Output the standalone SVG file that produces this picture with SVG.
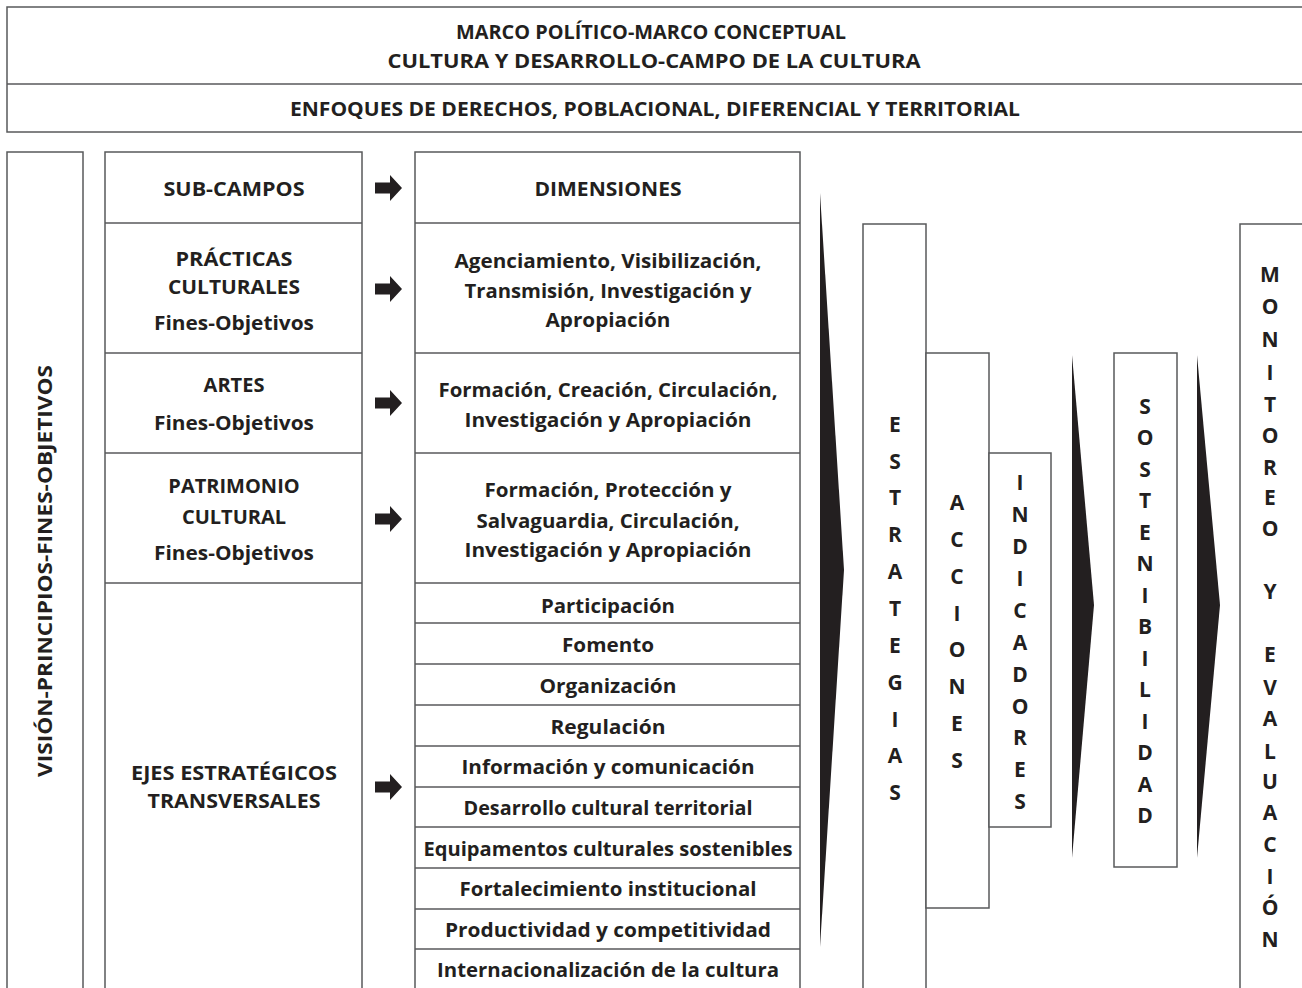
<svg xmlns="http://www.w3.org/2000/svg" width="1302" height="988" viewBox="0 0 1302 988">
<style>
.box{fill:#fff;stroke:#58595b;stroke-width:1.5}
.ln{stroke:#58595b;stroke-width:1.5;fill:none}
.t{font-family:"Open Sans","Liberation Sans",sans-serif;font-weight:700;font-size:20px;fill:#231f20;text-anchor:middle}
.v{font-family:"Open Sans","Liberation Sans",sans-serif;font-weight:700;font-size:21px;fill:#231f20;text-anchor:middle}
.tri{fill:#231f20}
</style>
<defs>
<path id="arr" d="M0,-5.5 H15 V-13 L27,0 L15,13 V5.5 H0 Z" fill="#231f20"/>
</defs>
<rect width="1302" height="988" fill="#fff"/>

<g id="header">
<rect class="box" x="7" y="7" width="1320" height="125"/>
<line class="ln" x1="7" y1="84" x2="1302" y2="84"/>
<text class="t" x="651" y="39" textLength="390" lengthAdjust="spacingAndGlyphs">MARCO POLÍTICO-MARCO CONCEPTUAL</text>
<text class="t" x="654" y="68" textLength="533" lengthAdjust="spacingAndGlyphs">CULTURA Y DESARROLLO-CAMPO DE LA CULTURA</text>
<text class="t" x="655" y="116" textLength="730" lengthAdjust="spacingAndGlyphs">ENFOQUES DE DERECHOS, POBLACIONAL, DIFERENCIAL Y TERRITORIAL</text>
</g>

<g id="vision">
<rect class="box" x="7" y="152" width="76" height="860"/>
<text class="t" transform="translate(52,571) rotate(-90)" textLength="412" lengthAdjust="spacingAndGlyphs">VISIÓN-PRINCIPIOS-FINES-OBJETIVOS</text>
</g>

<g id="subcampos">
<rect class="box" x="105" y="152" width="257" height="860"/>
<line class="ln" x1="105" y1="223" x2="362" y2="223"/>
<line class="ln" x1="105" y1="353" x2="362" y2="353"/>
<line class="ln" x1="105" y1="453" x2="362" y2="453"/>
<line class="ln" x1="105" y1="583" x2="362" y2="583"/>
<text class="t" x="234" y="196" textLength="141" lengthAdjust="spacingAndGlyphs">SUB-CAMPOS</text>
<text class="t" x="234" y="266" textLength="117" lengthAdjust="spacingAndGlyphs">PRÁCTICAS</text>
<text class="t" x="234" y="294" textLength="132" lengthAdjust="spacingAndGlyphs">CULTURALES</text>
<text class="t" x="234" y="330" textLength="160" lengthAdjust="spacingAndGlyphs">Fines-Objetivos</text>
<text class="t" x="234" y="392">ARTES</text>
<text class="t" x="234" y="430" textLength="160" lengthAdjust="spacingAndGlyphs">Fines-Objetivos</text>
<text class="t" x="234" y="493">PATRIMONIO</text>
<text class="t" x="234" y="524">CULTURAL</text>
<text class="t" x="234" y="560" textLength="160" lengthAdjust="spacingAndGlyphs">Fines-Objetivos</text>
<text class="t" x="234" y="780" textLength="206" lengthAdjust="spacingAndGlyphs">EJES ESTRATÉGICOS</text>
<text class="t" x="234" y="808" textLength="173" lengthAdjust="spacingAndGlyphs">TRANSVERSALES</text>
</g>

<g id="connectors">
<use href="#arr" x="375" y="188"/>
<use href="#arr" x="375" y="289"/>
<use href="#arr" x="375" y="403"/>
<use href="#arr" x="375" y="519"/>
<use href="#arr" x="375" y="787"/>
<polygon class="tri" points="820,193 844,570 820,947"/>
<polygon class="tri" points="1072,355 1094,605 1072,858"/>
<polygon class="tri" points="1197,355 1220,605 1197,858"/>
</g>

<g id="dimensiones">
<rect class="box" x="415" y="152" width="385" height="860"/>
<line class="ln" x1="415" y1="223" x2="800" y2="223"/>
<line class="ln" x1="415" y1="353" x2="800" y2="353"/>
<line class="ln" x1="415" y1="453" x2="800" y2="453"/>
<line class="ln" x1="415" y1="583" x2="800" y2="583"/>
<line class="ln" x1="415" y1="623" x2="800" y2="623"/>
<line class="ln" x1="415" y1="664" x2="800" y2="664"/>
<line class="ln" x1="415" y1="705" x2="800" y2="705"/>
<line class="ln" x1="415" y1="746" x2="800" y2="746"/>
<line class="ln" x1="415" y1="787" x2="800" y2="787"/>
<line class="ln" x1="415" y1="827" x2="800" y2="827"/>
<line class="ln" x1="415" y1="868" x2="800" y2="868"/>
<line class="ln" x1="415" y1="909" x2="800" y2="909"/>
<line class="ln" x1="415" y1="949" x2="800" y2="949"/>
<text class="t" x="608" y="196" textLength="147" lengthAdjust="spacingAndGlyphs">DIMENSIONES</text>
<text class="t" x="608" y="268" textLength="307" lengthAdjust="spacingAndGlyphs">Agenciamiento, Visibilización,</text>
<text class="t" x="608" y="298" textLength="287" lengthAdjust="spacingAndGlyphs">Transmisión, Investigación y</text>
<text class="t" x="608" y="327" textLength="125" lengthAdjust="spacingAndGlyphs">Apropiación</text>
<text class="t" x="608" y="397" textLength="339" lengthAdjust="spacingAndGlyphs">Formación, Creación, Circulación,</text>
<text class="t" x="608" y="427" textLength="287" lengthAdjust="spacingAndGlyphs">Investigación y Apropiación</text>
<text class="t" x="608" y="497" textLength="247" lengthAdjust="spacingAndGlyphs">Formación, Protección y</text>
<text class="t" x="608" y="528" textLength="263" lengthAdjust="spacingAndGlyphs">Salvaguardia, Circulación,</text>
<text class="t" x="608" y="557" textLength="287" lengthAdjust="spacingAndGlyphs">Investigación y Apropiación</text>
<text class="t" x="608" y="613" textLength="134" lengthAdjust="spacingAndGlyphs">Participación</text>
<text class="t" x="608" y="652" textLength="92" lengthAdjust="spacingAndGlyphs">Fomento</text>
<text class="t" x="608" y="693" textLength="137" lengthAdjust="spacingAndGlyphs">Organización</text>
<text class="t" x="608" y="734" textLength="115" lengthAdjust="spacingAndGlyphs">Regulación</text>
<text class="t" x="608" y="774" textLength="293" lengthAdjust="spacingAndGlyphs">Información y comunicación</text>
<text class="t" x="608" y="815" textLength="289" lengthAdjust="spacingAndGlyphs">Desarrollo cultural territorial</text>
<text class="t" x="608" y="856" textLength="369" lengthAdjust="spacingAndGlyphs">Equipamentos culturales sostenibles</text>
<text class="t" x="608" y="896" textLength="297" lengthAdjust="spacingAndGlyphs">Fortalecimiento institucional</text>
<text class="t" x="608" y="937" textLength="326" lengthAdjust="spacingAndGlyphs">Productividad y competitividad</text>
<text class="t" x="608" y="977" textLength="342" lengthAdjust="spacingAndGlyphs">Internacionalización de la cultura</text>
</g>

<g id="estrategias">
<rect class="box" x="863" y="224" width="63" height="800"/>
<text class="v" x="895" y="432">E</text>
<text class="v" x="895" y="469">S</text>
<text class="v" x="895" y="505">T</text>
<text class="v" x="895" y="542">R</text>
<text class="v" x="895" y="579">A</text>
<text class="v" x="895" y="616">T</text>
<text class="v" x="895" y="653">E</text>
<text class="v" x="895" y="690">G</text>
<text class="v" x="895" y="727">I</text>
<text class="v" x="895" y="763">A</text>
<text class="v" x="895" y="800">S</text>
</g>

<g id="acciones">
<rect class="box" x="926" y="353" width="63" height="555"/>
<text class="v" x="957" y="510">A</text>
<text class="v" x="957" y="547">C</text>
<text class="v" x="957" y="584">C</text>
<text class="v" x="957" y="621">I</text>
<text class="v" x="957" y="657">O</text>
<text class="v" x="957" y="694">N</text>
<text class="v" x="957" y="731">E</text>
<text class="v" x="957" y="768">S</text>
</g>

<g id="indicadores">
<rect class="box" x="989" y="453" width="62" height="374"/>
<text class="v" x="1020" y="490">I</text>
<text class="v" x="1020" y="522">N</text>
<text class="v" x="1020" y="554">D</text>
<text class="v" x="1020" y="586">I</text>
<text class="v" x="1020" y="618">C</text>
<text class="v" x="1020" y="650">A</text>
<text class="v" x="1020" y="682">D</text>
<text class="v" x="1020" y="714">O</text>
<text class="v" x="1020" y="745">R</text>
<text class="v" x="1020" y="777">E</text>
<text class="v" x="1020" y="809">S</text>
</g>

<g id="sostenibilidad">
<rect class="box" x="1114" y="353" width="63" height="514"/>
<text class="v" x="1145" y="414">S</text>
<text class="v" x="1145" y="445">O</text>
<text class="v" x="1145" y="477">S</text>
<text class="v" x="1145" y="508">T</text>
<text class="v" x="1145" y="540">E</text>
<text class="v" x="1145" y="571">N</text>
<text class="v" x="1145" y="603">I</text>
<text class="v" x="1145" y="634">B</text>
<text class="v" x="1145" y="666">I</text>
<text class="v" x="1145" y="697">L</text>
<text class="v" x="1145" y="729">I</text>
<text class="v" x="1145" y="760">D</text>
<text class="v" x="1145" y="792">A</text>
<text class="v" x="1145" y="823">D</text>
</g>

<g id="monitoreo">
<rect class="box" x="1240" y="224" width="100" height="800"/>
<text class="v" x="1270" y="282">M</text>
<text class="v" x="1270" y="314">O</text>
<text class="v" x="1270" y="347">N</text>
<text class="v" x="1270" y="380">I</text>
<text class="v" x="1270" y="412">T</text>
<text class="v" x="1270" y="443">O</text>
<text class="v" x="1270" y="475">R</text>
<text class="v" x="1270" y="505">E</text>
<text class="v" x="1270" y="536">O</text>
<text class="v" x="1270" y="599">Y</text>
<text class="v" x="1270" y="662">E</text>
<text class="v" x="1270" y="695">V</text>
<text class="v" x="1270" y="726">A</text>
<text class="v" x="1270" y="759">L</text>
<text class="v" x="1270" y="789">U</text>
<text class="v" x="1270" y="820">A</text>
<text class="v" x="1270" y="852">C</text>
<text class="v" x="1270" y="884">I</text>
<text class="v" x="1270" y="915">Ó</text>
<text class="v" x="1270" y="947">N</text>
</g>
</svg>
